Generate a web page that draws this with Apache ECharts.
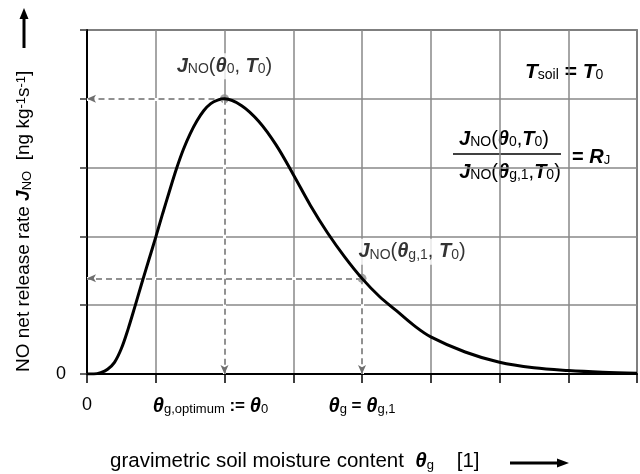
<!DOCTYPE html>
<html>
<head>
<meta charset="utf-8">
<script src="https://cdn.jsdelivr.net/npm/echarts@6/dist/echarts.min.js"></script>
<style>html,body{margin:0;padding:0;background:#fff}#c{width:640px;height:474px}</style>
</head>
<body>
<div id="c"></div>
<script>
// Curve: NO net release rate vs gravimetric soil moisture (arbitrary units)
var curveX = [0, 0.1, 0.2, 0.3, 0.4, 0.5, 0.6, 0.7, 0.8, 0.9, 1.0, 1.1, 1.2, 1.3, 1.4, 1.5, 1.6, 1.7, 1.8, 1.9, 2.0,
              2.25, 2.5, 2.75, 3.0, 3.25, 3.5, 3.75, 4.0, 4.25, 4.5, 4.75, 5.0, 5.5, 6.0, 6.5, 7.0, 7.5, 8.0];
var curveY = [0, 0, 0.02, 0.07, 0.17, 0.37, 0.66, 0.99, 1.33, 1.66, 1.99, 2.33, 2.66, 2.98, 3.26, 3.49, 3.68, 3.83, 3.93, 3.98, 4.0,
              3.90, 3.67, 3.33, 2.90, 2.45, 2.05, 1.70, 1.39, 1.13, 0.92, 0.71, 0.54, 0.32, 0.17, 0.09, 0.05, 0.025, 0.01];
// Marked points: optimum and theta_g,1
var pointX = [2, 4];
var pointY = [4, 1.39];
var xMin = 0, xMax = 8, xStep = 1;
var yMin = 0, yMax = 5, yStep = 1;

var FF = '"Liberation Sans", Arial, sans-serif';
var curve = curveX.map(function (x, i) { return [x, curveY[i]]; });
var pts = pointX.map(function (x, i) { return [x, pointY[i]]; });

function rich(base, sub) {
  return {
    r: {fontFamily: FF, fontSize: base, color: '#000'},
    b: {fontFamily: FF, fontSize: base, fontWeight: 'bold', color: '#000'},
    j: {fontFamily: FF, fontSize: base, fontWeight: 'bold', fontStyle: 'italic', color: '#000'},
    s: {fontFamily: FF, fontSize: sub, color: '#000', verticalAlign: 'bottom', lineHeight: sub + 2},
    sup: {fontFamily: FF, fontSize: sub, color: '#000', verticalAlign: 'top', lineHeight: sub + 2}
  };
}

var arrowLines = [
  [{coord: [pointX[0], pointY[0]]}, {coord: [xMin, pointY[0]]}],
  [{coord: [pointX[0], pointY[0]]}, {coord: [pointX[0], yMin]}],
  [{coord: [pointX[1], pointY[1]]}, {coord: [xMin, pointY[1]]}],
  [{coord: [pointX[1], pointY[1]]}, {coord: [pointX[1], yMin]}]
];

var chart = echarts.init(document.getElementById('c'));
chart.setOption({
  animation: false,
  backgroundColor: '#fff',
  grid: {left: 87, right: 2, top: 30, bottom: 100, show: true, borderColor: '#333', borderWidth: 1.5},
  xAxis: {
    type: 'value', min: xMin, max: xMax, interval: xStep,
    axisLine: {show: true, lineStyle: {color: '#000', width: 2}},
    axisTick: {show: true, length: 9, lineStyle: {color: '#000', width: 1.5}},
    splitLine: {show: true, lineStyle: {color: '#888', width: 1.5}},
    axisLabel: {
      margin: 22,
      formatter: function (v) {
        if (v === 0) return '{n|0}';
        if (v === 2) return '{t|θ}{s|g,optimum}{r| := }{t|θ}{s|0}{pad|}';
        if (v === 4) return '{t|θ}{s|g}{r| = }{t|θ}{s|g,1}';
        return '';
      },
      rich: {
        n: {fontFamily: FF, fontSize: 18, color: '#000'},
        t: {fontFamily: FF, fontSize: 20, fontWeight: 'bold', fontStyle: 'italic', color: '#000'},
        s: {fontFamily: FF, fontSize: 13, color: '#000', verticalAlign: 'bottom', lineHeight: 15},
        r: {fontFamily: FF, fontSize: 17, fontWeight: 'bold', color: '#000'},
        pad: {width: 28}
      }
    }
  },
  yAxis: {
    type: 'value', min: yMin, max: yMax, interval: yStep,
    axisLine: {show: true, lineStyle: {color: '#000', width: 2}},
    axisTick: {show: true, length: 7, lineStyle: {color: '#333', width: 1.5}},
    splitLine: {show: true, lineStyle: {color: '#888', width: 1.5}},
    axisLabel: {
      margin: 21, fontFamily: FF, fontSize: 18, color: '#000',
      formatter: function (v) { return v === 0 ? '0' : ''; }
    }
  },
  series: [
    {
      // white masks over gridlines under dashed guides
      type: 'scatter', data: [], z: 1, silent: true,
      markLine: {
        silent: true, symbol: ['none', 'none'], label: {show: false}, animation: false,
        lineStyle: {type: 'solid', color: '#fff', width: 3},
        data: arrowLines
      }
    },
    {
      type: 'scatter', data: pts, z: 3, symbolSize: 9,
      itemStyle: {color: '#8c8c8c'},
      label: {
        show: true, position: 'top', backgroundColor: '#fff', padding: [3, 3, 3, 3],
        formatter: function (p) {
          if (p.dataIndex === 0) return '{j|J}{s|NO}{r|(}{j|θ}{s|0}{r|, }{j|T}{s|0}{r|)}';
          return '{j|J}{s|NO}{r|(}{j|θ}{s|g,1}{r|, }{j|T}{s|0}{r|)}';
        },
        rich: rich(20, 14)
      },
      labelLayout: function (p) {
        if (p.dataIndex === 0) return {dy: -10};
        return {dx: 50, dy: -4};
      },
      markLine: {
        silent: true, symbol: ['none', 'arrow'], symbolSize: [6, 9], label: {show: false}, animation: false,
        lineStyle: {type: [6, 4], color: '#6e6e6e', width: 1.5},
        data: arrowLines
      }
    },
    {
      type: 'line', data: curve, smooth: 0.35, showSymbol: false, z: 5,
      lineStyle: {color: '#000', width: 3}
    }
  ],
  graphic: [
    {type: 'text', x: 24, y: 372, rotation: Math.PI / 2,
      style: {text: '{r|NO net release rate }{j|J}{s|NO}{r|  [ng kg}{sup|-1}{r|s}{sup|-1}{r|]}',
        rich: rich(19, 13), align: 'left', verticalAlign: 'middle'}},
    {type: 'line', shape: {x1: 24, y1: 48, x2: 24, y2: 16}, style: {stroke: '#000', lineWidth: 3}},
    {type: 'polygon', shape: {points: [[24, 8], [19.5, 19], [28.5, 19]]}, style: {fill: '#000'}},
    {type: 'text', x: 110, y: 461,
      style: {text: '{r|gravimetric soil moisture content  }{j|θ}{s|g}{r|    [1]}',
        rich: rich(20.5, 13), align: 'left', verticalAlign: 'middle'}},
    {type: 'line', shape: {x1: 510, y1: 463, x2: 558, y2: 463}, style: {stroke: '#000', lineWidth: 3}},
    {type: 'polygon', shape: {points: [[569, 463], [557, 458.5], [557, 467.5]]}, style: {fill: '#000'}},
    {type: 'text', x: 525, y: 72,
      style: {text: '{j|T}{s|soil}{b| = }{j|T}{s|0}', rich: rich(21, 14), align: 'left', verticalAlign: 'middle'}},
    {type: 'text', x: 504, y: 139,
      style: {text: '{j|J}{s|NO}{r|(}{j|θ}{s|0}{r|,}{j|T}{s|0}{r|)}', rich: rich(20, 14), align: 'center', verticalAlign: 'middle'}},
    {type: 'line', shape: {x1: 453, y1: 154, x2: 561, y2: 154}, style: {stroke: '#000', lineWidth: 1.5}},
    {type: 'text', x: 510, y: 172,
      style: {text: '{j|J}{s|NO}{r|(}{j|θ}{s|g,1}{r|,}{j|T}{s|0}{r|)}', rich: rich(20, 14), align: 'center', verticalAlign: 'middle'}},
    {type: 'text', x: 572, y: 157,
      style: {text: '{b|= }{j|R}{s|J}', rich: rich(20, 13), align: 'left', verticalAlign: 'middle'}}
  ]
});
</script>
</body>
</html>
